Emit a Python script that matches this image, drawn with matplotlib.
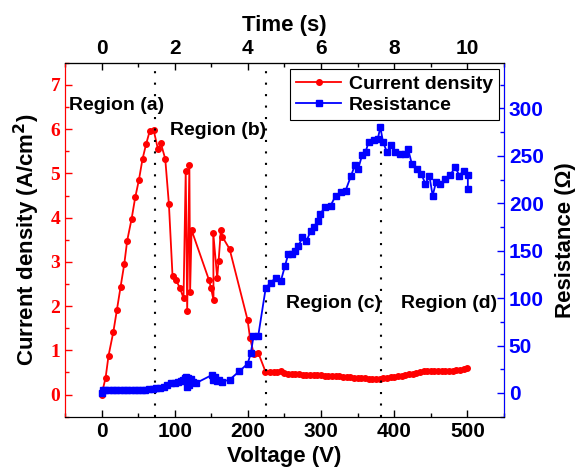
import matplotlib
matplotlib.use('Agg')
import matplotlib.pyplot as plt
from matplotlib.ticker import MultipleLocator

# current density vs applied voltage
j_voltage = [
    0, 5.5, 9.5, 16, 21, 26, 31, 35, 41, 46, 51, 56, 61, 66, 71, 77, 81, 87, 92,
    97, 102, 107, 112, 115, 117, 120, 121, 123, 147, 149.5, 153, 152.6, 158, 160,
    163, 165, 175, 199.5, 203, 208, 214, 224,
    230, 235, 240, 245, 250, 255, 260, 265, 270, 275, 280, 285, 290, 295, 300,
    305, 310, 315, 320, 325, 330, 335, 340, 345, 350, 355, 360, 365, 370, 375,
    380, 385, 390, 395, 400, 405, 410, 415, 420, 425, 430, 435, 440, 445, 450,
    455, 460, 465, 470, 475, 480, 485, 490, 495, 500,
]
current_density = [
    0, 0.38, 0.88, 1.41, 1.92, 2.44, 2.95, 3.48, 3.97, 4.46, 4.85, 5.33, 5.67, 5.97, 5.99, 5.55, 5.68, 5.33, 4.31,
    2.67, 2.58, 2.41, 2.18, 5.06, 1.90, 5.19, 2.33, 3.72, 2.58, 2.41, 2.14, 3.66, 2.64, 3.03,
    3.72, 3.57, 3.29, 1.69, 1.27, 0.92, 0.95, 0.52,
    0.51, 0.50, 0.50, 0.53, 0.49, 0.47, 0.47, 0.46, 0.46, 0.45, 0.45, 0.45, 0.44, 0.44, 0.44,
    0.43, 0.43, 0.42, 0.42, 0.41, 0.40, 0.40, 0.39, 0.38, 0.38, 0.37, 0.37, 0.36, 0.36, 0.36,
    0.35, 0.37, 0.38, 0.39, 0.40, 0.41, 0.42, 0.44, 0.46, 0.47, 0.49, 0.51, 0.53, 0.53, 0.54,
    0.54, 0.53, 0.54, 0.54, 0.53, 0.54, 0.55, 0.56, 0.57, 0.59,
]

# resistance vs applied voltage
r_voltage = [
    0, 2, 5, 10, 15, 20, 25, 30, 35, 40, 45, 50, 55, 60, 65, 70, 75, 80, 85, 90,
    95, 100, 104, 108, 111, 114, 116, 117, 118, 120, 122, 125, 129, 151, 152, 155,
    158, 160, 165, 175, 188, 199.6, 204, 207.6, 214, 224.4, 231, 238, 245, 250.7,
    255, 260, 265, 269, 274.5, 280, 285.8, 290, 295.6, 299, 305, 313, 320, 326.7,
    333.5, 341, 346, 350.7, 356, 360.8, 365, 372, 377.5, 381, 384.7, 390, 396,
    401.5, 408.5, 415, 418.8, 424, 431, 437, 442.5, 448, 452.5, 457, 463, 469.8,
    476.6, 483.5, 489, 494.8, 500.6, 500.6,
]
resistance = [
    0.4, 3.5, 3.5, 3.2, 3.0, 2.8, 2.8, 2.8, 2.8, 2.9, 3.0, 3.1, 3.3, 3.6, 4.0, 4.5, 5.0, 5.5, 6.5, 8.0,
    10.0, 11.0, 12.0, 12.5, 14.0, 15.5, 16.5, 6.8, 16.0, 8.0, 15.0, 12.0, 10.4, 19.0, 14.0, 17.0,
    13.0, 14.0, 12.0, 14.0, 22.7, 30.8, 42.0, 59.7, 59.7, 111, 116, 121.6, 118, 134,
    146, 146, 149.8, 155, 164, 160, 171, 174.6, 181.6, 188.7, 195.8, 197.5, 208, 211.6,
    213.4, 229, 239.8, 236.3, 250.4, 254, 264.6, 266.3, 268, 280, 264.6, 254, 261,
    254, 252, 252, 257.5, 241.6, 236.3, 231, 220.4, 229, 208, 222, 220.4, 225.7,
    230, 238, 229, 234.5, 230, 215,
]

boundaries = [73, 225, 382]
region_labels = ['Region (a)', 'Region (b)', 'Region (c)', 'Region (d)']
region_pos = [(-44, 6.53), (93, 5.97), (252, 2.05), (409, 2.05)]

sans = 'Liberation Sans'
serif = 'Liberation Serif'
plt.rcParams['font.family'] = sans
plt.rcParams['font.weight'] = 'bold'
plt.rcParams['mathtext.default'] = 'bf'

fig = plt.figure(figsize=(5.84, 4.76), dpi=100)
ax = fig.add_axes([0.1113, 0.1246, 0.7517, 0.7434])
ax2 = ax.twinx()

l1, = ax.plot(j_voltage, current_density, '-o', color='red', lw=1.3,
              ms=4, label='Current density')
l2, = ax2.plot(r_voltage, resistance, '-s', color='blue', lw=1.3,
               ms=4, label='Resistance')

for v in boundaries:
    ax.axvline(v, color='black', lw=1.5, ls=(0, (1, 4.5)))

for txt, (x, y) in zip(region_labels, region_pos):
    ax.text(x, y, txt, fontsize=14, fontweight='bold', va='center', ha='left')

ax.set_xlim(-50, 550)
ax.set_ylim(-0.5, 7.5)
ax2.set_ylim(-25, 348)

ax.xaxis.set_major_locator(MultipleLocator(100))
ax.xaxis.set_minor_locator(MultipleLocator(50))
ax.yaxis.set_major_locator(MultipleLocator(1))
ax.yaxis.set_minor_locator(MultipleLocator(0.5))
ax2.yaxis.set_major_locator(MultipleLocator(50))
ax2.yaxis.set_minor_locator(MultipleLocator(25))

ax.tick_params(axis='x', which='both', direction='in', top=False, labelsize=15)
ax.tick_params(axis='both', which='major', length=5, width=1)
ax.tick_params(axis='both', which='minor', length=3, width=1)
ax.tick_params(axis='y', which='both', direction='in', colors='red', labelsize=14)
for lab in ax.get_yticklabels():
    lab.set_fontfamily(serif)
    lab.set_fontweight('bold')
ax2.tick_params(axis='y', which='both', direction='in', colors='blue', labelsize=15)
ax2.tick_params(axis='y', which='major', length=5, width=1)
ax2.tick_params(axis='y', which='minor', length=3, width=1)

ax.spines['left'].set_color('red')
ax2.spines['left'].set_color('red')
ax2.spines['right'].set_color('blue')

ax.set_xlabel('Voltage (V)', fontsize=16, fontweight='bold', labelpad=4)
ax.set_ylabel('Current density (A/cm$^2$)', fontsize=16, fontweight='bold', labelpad=6)
ax2.set_ylabel('Resistance (\u03a9)', fontsize=16, fontweight='bold', labelpad=8)

top = ax.secondary_xaxis('top', functions=(lambda v: v / 50, lambda t: t * 50))
top.xaxis.set_major_locator(MultipleLocator(2))
top.xaxis.set_minor_locator(MultipleLocator(1))
top.tick_params(axis='x', which='both', direction='in', labelsize=15)
top.tick_params(axis='x', which='major', length=5, width=1)
top.tick_params(axis='x', which='minor', length=3, width=1)
top.set_xlabel('Time (s)', fontsize=16, fontweight='bold', labelpad=6)

leg = ax2.legend(handles=[l1, l2], loc='upper right', bbox_to_anchor=(0.988, 0.982),
                 borderaxespad=0, fontsize=14, fancybox=False, framealpha=1,
                 edgecolor='black', handlelength=2.3, handletextpad=0.4,
                 borderpad=0.3, labelspacing=0.2)
leg.get_frame().set_linewidth(0.8)

fig.savefig('out.png', dpi=100)
